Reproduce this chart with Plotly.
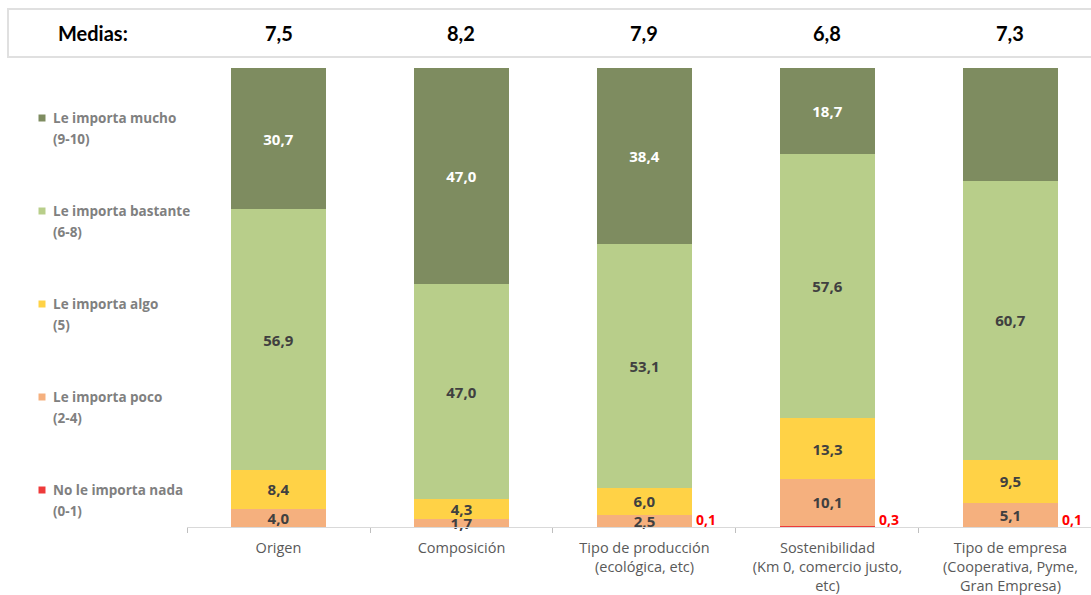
import plotly.graph_objects as go

# Categories (x axis) and mean scores shown in the header row
categorias = [
    "Origen",
    "Composición",
    "Tipo de producción<br>(ecológica, etc)",
    "Sostenibilidad<br>(Km 0, comercio justo,<br>etc)",
    "Tipo de empresa<br>(Cooperativa, Pyme,<br>Gran Empresa)",
]
medias = [7.5, 8.2, 7.9, 6.8, 7.3]

# Percentages per answer level (bottom to top of each stacked bar)
nada = [None, None, 0.1, 0.3, 0.1]
poco = [4.0, 1.7, 2.5, 10.1, 5.1]
algo = [8.4, 4.3, 6.0, 13.3, 9.5]
bastante = [56.9, 47.0, 53.1, 57.6, 60.7]
mucho = [30.7, 47.0, 38.4, 18.7, 24.7]

series = [
    ("No le importa nada<br>(0-1)", nada, "#EE3A3A", "#EE3A3A", False),
    ("Le importa poco<br>(2-4)", poco, "#F5B07E", "#404040", True),
    ("Le importa algo<br>(5)", algo, "#FFD246", "#404040", True),
    ("Le importa bastante<br>(6-8)", bastante, "#B8CE8A", "#404040", True),
    ("Le importa mucho<br>(9-10)", mucho, "#7E8C60", "#FFFFFF", True),
]

SANS = "Open Sans"
HEAD = "Lato"

# plot area in pixels, used to place items outside the axes
L, T, B, W, H = 187, 68, 68, 1091, 595
PW, PH = W - L, H - T - B


def px_x(x):
    return (x - L) / PW


def px_y(y):
    return (H - B - y) / PH


fig = go.Figure()
for i, (name, vals, color, tcolor, show_text) in enumerate(series):
    fig.add_trace(go.Bar(
        x=categorias,
        y=vals,
        name=name,
        showlegend=False,
        marker=dict(color=color, line=dict(width=0)),
        texttemplate="%{y:.1f}" if show_text else None,
        textposition="inside" if show_text else "none",
        insidetextanchor="middle",
        textfont=dict(color=tcolor, size=15, family=SANS, weight="bold"),
        constraintext="none",
        cliponaxis=False,
        hoverinfo="skip",
    ))

# Small "nada" values written in red beside each bar
for cat, v in zip(categorias, nada):
    if v is None:
        continue
    fig.add_annotation(
        x=cat, y=0, xref="x", yref="y",
        text=f"{v:.1f}".replace(".", ","),
        showarrow=False, xanchor="left", yanchor="bottom",
        xshift=50, yshift=-4,
        font=dict(color="#FF0000", size=14, family=SANS, weight="bold"),
    )

# Legend drawn down the left side, top item = top segment
legend_rows = list(reversed(series))
for k, (name, _, color, _, _) in enumerate(legend_rows):
    y_line1 = 118 + k * 93
    fig.add_shape(
        type="rect", xref="paper", yref="paper",
        xsizemode="pixel", ysizemode="pixel",
        xanchor=px_x(42), yanchor=px_y(y_line1),
        x0=-3.5, x1=3.5, y0=-3.5, y1=3.5,
        fillcolor=color, line=dict(width=0),
    )
    for j, line in enumerate(name.split("<br>")):
        fig.add_annotation(
            x=px_x(51), y=px_y(y_line1 + j * 21), xref="paper", yref="paper",
            text=line, showarrow=False, xanchor="left", yanchor="middle",
            font=dict(color="#808080", size=13.5, family=SANS, weight="bold"),
        )

# Header row with the means
fig.add_shape(
    type="rect", xref="paper", yref="paper",
    x0=px_x(8), x1=px_x(1100), y0=px_y(57), y1=px_y(9),
    line=dict(color="#E0E0E0", width=2), fillcolor="white", layer="below",
)
fig.add_annotation(
    x=px_x(93), y=px_y(33), xref="paper", yref="paper", text="Medias:",
    showarrow=False, xanchor="center", yanchor="middle",
    font=dict(color="#000000", size=20, family=HEAD, weight="bold"),
)
for cat, m in zip(categorias, medias):
    fig.add_annotation(
        x=cat, y=px_y(33), xref="x", yref="paper",
        text=f"{m:.1f}".replace(".", ","),
        showarrow=False, xanchor="center", yanchor="middle",
        font=dict(color="#000000", size=20, family=HEAD, weight="bold"),
    )

fig.update_layout(
    width=W, height=H,
    margin=dict(l=L, r=0, t=T, b=B),
    paper_bgcolor="white", plot_bgcolor="white",
    barmode="stack", bargap=0.48,
    separators=",.",
    uniformtext=dict(minsize=15, mode="show"),
    showlegend=False,
    xaxis=dict(
        range=[-0.5, 4.44], showgrid=False,
        showline=True, linecolor="#D9D9D9", linewidth=1,
        ticks="outside", tickson="boundaries", ticklen=5, tickcolor="#BFBFBF",
        tickfont=dict(color="#595959", size=14.5, family=SANS),
        ticklabelstandoff=8,
        fixedrange=True,
    ),
    yaxis=dict(range=[0, 100.1], visible=False, fixedrange=True),
    font=dict(family=SANS),
)

fig.write_html("out.html")
